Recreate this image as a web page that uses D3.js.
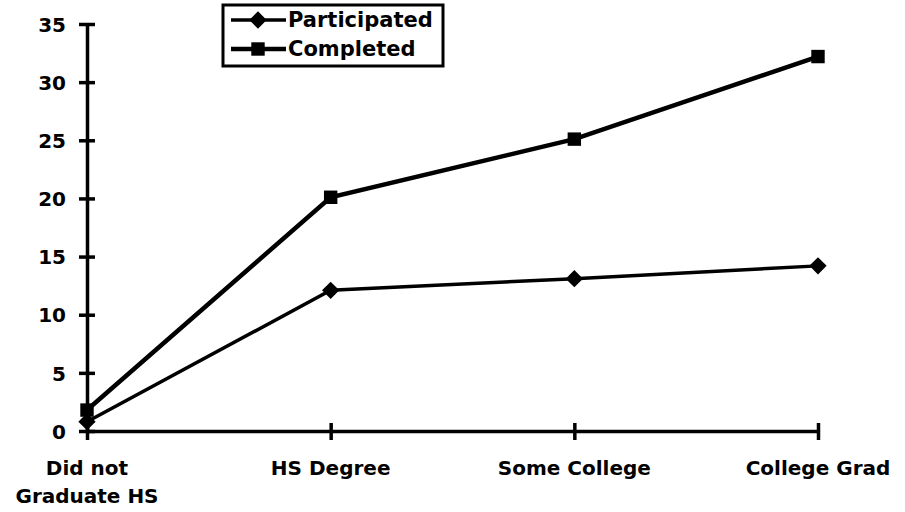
<!DOCTYPE html>
<html>
<head>
<meta charset="utf-8">
<script src="https://cdn.jsdelivr.net/npm/d3@7"></script>
<style>
  body { margin: 0; background: #fff; }
  text { font-family: "DejaVu Sans", sans-serif; font-weight: bold; fill: #000; }
</style>
</head>
<body>
<div id="chart"></div>
<script>
const width = 905,
height = 512,
margin = { top: 24, bottom: 81, left: 87, right: 87 }

const categories = [["Did not", "Graduate HS"], ["HS Degree"], ["Some College"], ["College Grad"]]
const participated = [0.8, 12.1, 13.1, 14.2]
const completed = [1.8, 20.1, 25.1, 32.2]
const yTicks = [0, 5, 10, 15, 20, 25, 30, 35]

const svg = d3.select("#chart")
    .append("svg")
    .attr("width", width)
    .attr("height", height)

const x = d3.scalePoint()
    .domain(d3.range(categories.length))
    .range([margin.left, width - margin.right])

const y = d3.scaleLinear()
    .domain([0, 35])
    .range([height - margin.bottom, margin.top])

//y axis with ticks crossing the line
const yAxis = svg.append("g")
    .attr("transform", `translate(${margin.left},0)`)
    .call(d3.axisLeft(y).tickValues(yTicks).tickSize(0).tickPadding(21))
yAxis.select(".domain").attr("stroke", "#000").attr("stroke-width", 3.5)
yAxis.selectAll(".tick line").remove()
yAxis.selectAll(".tick").append("line")
    .attr("x1", -8).attr("x2", 8)
    .attr("stroke", "#000").attr("stroke-width", 3.5)
yAxis.selectAll(".tick text")
    .attr("font-size", 20)
    .attr("dy", "0.36em")
    .style("font-family", null)

//x axis
const xAxis = svg.append("g")
    .attr("transform", `translate(0,${y(0)})`)
    .call(d3.axisBottom(x).tickSize(0).tickFormat(""))
xAxis.select(".domain").attr("stroke", "#000").attr("stroke-width", 3.5)
xAxis.selectAll(".tick").append("line")
    .attr("y1", -8).attr("y2", 9)
    .attr("stroke", "#000").attr("stroke-width", 3.5)

const labels = svg.append("g")
categories.forEach(function (lines, i) {
    lines.forEach(function (t, j) {
        labels.append("text")
            .attr("x", x(i))
            .attr("y", 475 + j * 28)
            .attr("text-anchor", "middle")
            .attr("font-size", 20)
            .text(t)
    })
})

const line = d3.line()
    .x((d, i) => x(i))
    .y(d => y(d))

svg.append("path")
    .datum(participated)
    .attr("d", line)
    .attr("fill", "none")
    .attr("stroke", "#000")
    .attr("stroke-width", 3.5)

svg.append("path")
    .datum(completed)
    .attr("d", line)
    .attr("fill", "none")
    .attr("stroke", "#000")
    .attr("stroke-width", 4.5)

const diamond = d3.symbol().type(d3.symbolDiamond2).size(190)
const square = d3.symbol().type(d3.symbolSquare).size(180)

svg.selectAll(".pmark")
    .data(participated)
    .join("path")
    .attr("class", "pmark")
    .attr("d", diamond)
    .attr("transform", (d, i) => `translate(${x(i)},${y(d)})`)

svg.selectAll(".cmark")
    .data(completed)
    .join("path")
    .attr("class", "cmark")
    .attr("d", square)
    .attr("transform", (d, i) => `translate(${x(i)},${y(d)})`)

//legend
const legend = svg.append("g")
legend.append("rect")
    .attr("x", 223).attr("y", 5)
    .attr("width", 220).attr("height", 61)
    .attr("fill", "#fff")
    .attr("stroke", "#000").attr("stroke-width", 3)

const items = [["Participated", diamond, 3.5, 20], ["Completed", square, 4.5, 49]]
items.forEach(function (d) {
    legend.append("line")
        .attr("x1", 231).attr("x2", 286)
        .attr("y1", d[3]).attr("y2", d[3])
        .attr("stroke", "#000").attr("stroke-width", d[2])
    legend.append("path")
        .attr("d", d[1])
        .attr("transform", `translate(258,${d[3]})`)
    legend.append("text")
        .attr("x", 288)
        .attr("y", d[3] + 7)
        .attr("font-size", 21)
        .text(d[0])
})
</script>
</body>
</html>
